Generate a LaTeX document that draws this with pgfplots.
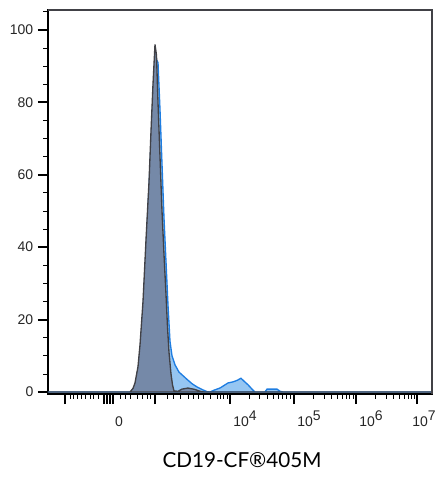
\documentclass[border=0pt]{standalone}
\usepackage{fontspec}
\setmainfont{Liberation Sans}
\newfontfamily\latofont{Lato}
\usepackage{pgfplots}
\pgfplotsset{compat=1.18}
\usetikzlibrary{calc}
\definecolor{bluefill}{RGB}{150,198,242}
\definecolor{blueline}{RGB}{30,125,225}
\definecolor{grayfill}{RGB}{117,137,168}
\definecolor{grayline}{RGB}{65,65,70}
\begin{document}
\begin{tikzpicture}
\begin{axis}[name=ax, scale only axis, width=288pt, height=288pt,
  xmin=48, xmax=432, ymin=-0.55, ymax=105.5,
  clip=false,
  axis line style={black, line width=0.9pt},
  tick align=outside,
  xtick pos=bottom, ytick pos=left,
  xtick={65,104,107,110,113,155,230,294,356,417}, xticklabels={},
  minor xtick={70,73,77,81,85,90,93,98,120,125,130,137,142,147,150,167,173,180,188,193,198,203,210,217,220,223,227,249,259,267,273,278,282,286,290,313,324,331,337,342,346,349,353,375,386,393,399,404,408,411,414},
  ytick={0,20,40,60,80,100},
  minor ytick={5,10,15,25,30,35,45,50,55,65,70,75,85,90,95,105},
  major tick length=7.5pt, minor tick length=3.5pt,
  major tick style={black, line width=1.6pt},
  minor tick style={black, line width=0.6pt},
  yticklabel style={font=\fontsize{10.5}{12}\selectfont, text=black!85},
  /pgf/number format/assume math mode=true,
]
\addplot[draw=blueline, fill=bluefill, line width=1pt] coordinates {
(48,0) (131,0) (134,1) (136,3) (139,8) (141,14) (144,27) (147,45) (150,62) (152,75) (154,87) (156,92) (158,91) (160,78) (162,63) (164,48) (166,36) (168,24) (170,14) (172,10) (175,7.5) (179,5.5) (183,4.5) (187,3.5) (192,2.3) (197,1.4) (202,0.7) (207,0.1) (210,0) (214,0.5) (220,1.1) (224,1.8) (228,2.5) (233,2.8) (237,3.2) (241,3.8) (244,3) (248,2) (252,0.8) (255,0) (265,0) (267,0.8) (277,0.8) (280,0.2) (283,0) (432,0)
} -- cycle;
\addplot[draw=grayline, fill=grayfill, line width=1pt] coordinates {
(48,0) (130,0) (133,1) (135,2.5) (138,7) (140,13) (143,25) (146,42) (149,58) (151,72) (153,85) (155,96) (156.5,93) (158,80) (160,65) (162,50) (164,38) (166,27) (167.5,18) (169,11) (171,5) (172.5,2) (174,0.3) (178,0.2) (182,0.8) (188,1.1) (195,0.7) (200,0.2) (204,0) (432,0)
} -- cycle;
\draw[grayline, line width=0.9pt] (rel axis cs:0,1) -- (rel axis cs:1,1) -- (rel axis cs:1,0);
\end{axis}
\begin{scope}[font=\fontsize{10.5}{12}\selectfont, text=black!85]
\node[anchor=base, inner sep=0] at ($(ax.south west)+(53.25pt,-24pt)$) {0};
\node[anchor=base west, inner sep=0] at ($(ax.south west)+(138.75pt,-24pt)$) {10\raisebox{0.75ex}{4}};
\node[anchor=base west, inner sep=0] at ($(ax.south west)+(186.75pt,-24pt)$) {10\raisebox{0.75ex}{5}};
\node[anchor=base west, inner sep=0] at ($(ax.south west)+(233.25pt,-24pt)$) {10\raisebox{0.75ex}{6}};
\node[anchor=base west, inner sep=0] at ($(ax.south west)+(273pt,-24pt)$) {10\raisebox{0.75ex}{7}};
\end{scope}
\node[anchor=base, inner sep=0, font=\latofont\fontsize{15.5}{17}\selectfont] at ($(ax.south)+(1.5pt,-54.75pt)$) {CD19-CF®405M};
\pgfresetboundingbox
\path ($(ax.south west)+(-36pt,-66pt)$) rectangle ($(ax.north east)+(9pt,7.5pt)$);
\end{tikzpicture}
\end{document}
